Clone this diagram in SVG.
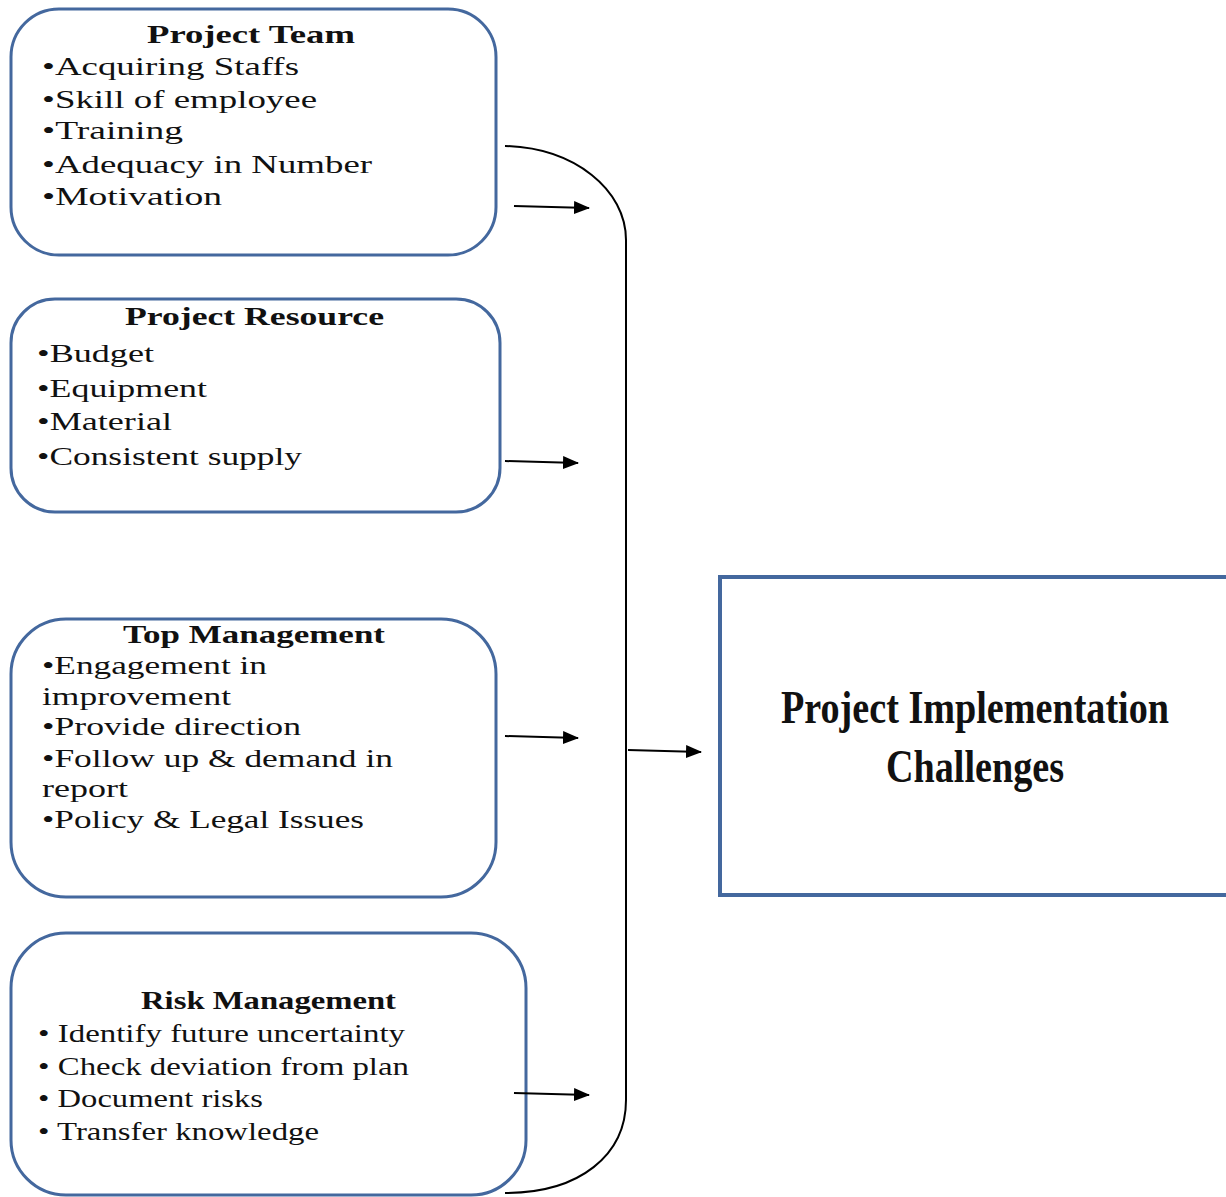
<svg xmlns="http://www.w3.org/2000/svg" width="1226" height="1197" viewBox="0 0 1226 1197">
<style>
.box{fill:#fff;stroke:#44689e;stroke-width:3}
.t{font-family:"Liberation Serif","Times New Roman",serif;font-size:26px;fill:#111}
.h{font-family:"Liberation Serif","Times New Roman",serif;font-size:26px;font-weight:bold;fill:#111}
.big{font-family:"Liberation Serif","Times New Roman",serif;font-size:46px;font-weight:bold;fill:#111;text-anchor:middle}
.c{fill:none;stroke:#000;stroke-width:2}
</style>
<defs>
<marker id="ah" viewBox="0 0 16 13" refX="15" refY="6.5" markerWidth="16" markerHeight="13" markerUnits="userSpaceOnUse" orient="auto">
<path d="M0,0L16,6.5L0,13z" fill="#000"/>
</marker>
</defs>
<rect width="1226" height="1197" fill="#fff"/>
<g id="project-team">
<rect class="box" x="11" y="9" width="485" height="246" rx="48"/>
<text class="h" x="147" y="43" textLength="208" lengthAdjust="spacingAndGlyphs">Project Team</text>
<text class="t" x="42" y="75" textLength="257" lengthAdjust="spacingAndGlyphs">•Acquiring Staffs</text>
<text class="t" x="42" y="108" textLength="275" lengthAdjust="spacingAndGlyphs">•Skill of employee</text>
<text class="t" x="42" y="139" textLength="141" lengthAdjust="spacingAndGlyphs">•Training</text>
<text class="t" x="42" y="173" textLength="330" lengthAdjust="spacingAndGlyphs">•Adequacy in Number</text>
<text class="t" x="42" y="205" textLength="180" lengthAdjust="spacingAndGlyphs">•Motivation</text>
</g>
<g id="project-resource">
<rect class="box" x="11" y="299" width="489" height="213" rx="44"/>
<text class="h" x="125" y="325" textLength="259" lengthAdjust="spacingAndGlyphs">Project Resource</text>
<text class="t" x="37" y="362" textLength="117" lengthAdjust="spacingAndGlyphs">•Budget</text>
<text class="t" x="37" y="397" textLength="170" lengthAdjust="spacingAndGlyphs">•Equipment</text>
<text class="t" x="37" y="430" textLength="135" lengthAdjust="spacingAndGlyphs">•Material</text>
<text class="t" x="37" y="465" textLength="265" lengthAdjust="spacingAndGlyphs">•Consistent supply</text>
</g>
<g id="top-management">
<rect class="box" x="11" y="619" width="485" height="278" rx="55"/>
<text class="h" x="123" y="643" textLength="262" lengthAdjust="spacingAndGlyphs">Top Management</text>
<text class="t" x="42" y="674" textLength="225" lengthAdjust="spacingAndGlyphs">•Engagement in</text>
<text class="t" x="42" y="705" textLength="189" lengthAdjust="spacingAndGlyphs">improvement</text>
<text class="t" x="42" y="735" textLength="259" lengthAdjust="spacingAndGlyphs">•Provide direction</text>
<text class="t" x="42" y="767" textLength="351" lengthAdjust="spacingAndGlyphs">•Follow up &amp; demand in</text>
<text class="t" x="42" y="797" textLength="86" lengthAdjust="spacingAndGlyphs">report</text>
<text class="t" x="42" y="828" textLength="322" lengthAdjust="spacingAndGlyphs">•Policy &amp; Legal Issues</text>
</g>
<g id="risk-management">
<rect class="box" x="11" y="933" width="515" height="262" rx="55"/>
<text class="h" x="141" y="1009" textLength="255" lengthAdjust="spacingAndGlyphs">Risk Management</text>
<text class="t" x="38" y="1042" textLength="367" lengthAdjust="spacingAndGlyphs">• Identify future uncertainty</text>
<text class="t" x="38" y="1075" textLength="371" lengthAdjust="spacingAndGlyphs">• Check deviation from plan</text>
<text class="t" x="38" y="1107" textLength="225" lengthAdjust="spacingAndGlyphs">• Document risks</text>
<text class="t" x="38" y="1140" textLength="281" lengthAdjust="spacingAndGlyphs">• Transfer knowledge</text>
</g>
<g id="project-implementation-challenges">
<rect x="720" y="577" width="506" height="318" fill="#fff"/>
<path d="M1226,577H720V895H1226" fill="none" stroke="#44689e" stroke-width="4"/>
<text class="big" x="975" y="723" textLength="388" lengthAdjust="spacingAndGlyphs">Project Implementation</text>
<text class="big" x="975" y="782" textLength="178" lengthAdjust="spacingAndGlyphs">Challenges</text>
</g>
<g id="connectors">
<path class="c" d="M505,146 C575,148 626,190 626,240 L626,1100 C626,1155 580,1193 505,1193"/>
<line class="c" x1="514" y1="206" x2="589" y2="208" marker-end="url(#ah)"/>
<line class="c" x1="505" y1="461" x2="578" y2="463" marker-end="url(#ah)"/>
<line class="c" x1="505" y1="736" x2="578" y2="738" marker-end="url(#ah)"/>
<line class="c" x1="628" y1="750" x2="701" y2="752" marker-end="url(#ah)"/>
<line class="c" x1="514" y1="1093" x2="589" y2="1095" marker-end="url(#ah)"/>
</g>
</svg>
